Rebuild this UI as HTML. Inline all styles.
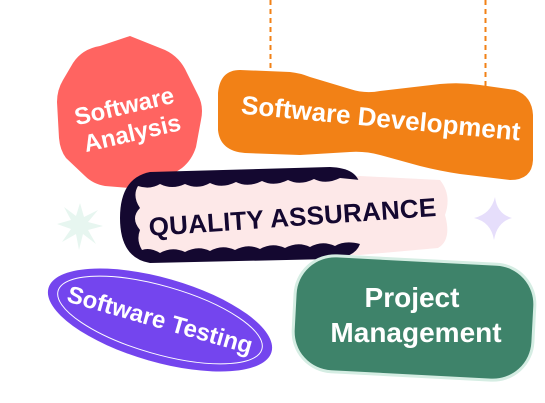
<!DOCTYPE html>
<html><head><meta charset="utf-8"><style>
html,body{margin:0;padding:0;background:#fff;width:545px;height:403px;overflow:hidden}
svg text{font-family:"Liberation Sans",sans-serif}
</style></head><body>
<svg width="545" height="403" viewBox="0 0 545 403" xmlns="http://www.w3.org/2000/svg">
<line x1="270.5" y1="0" x2="270.5" y2="68" stroke="#F28116" stroke-width="2" stroke-dasharray="5,4"/>
<line x1="485.5" y1="0" x2="485.5" y2="86" stroke="#F28116" stroke-width="2" stroke-dasharray="5,4"/>
<path d="M100,46 L130,36 L165,50 Q180,57 187,73 L198,95 Q204,106 201,120 L196,147 Q192,160 182,168 L155,186 Q145,190 130,188 L105,186 Q93,184 85,176 L66,158 Q60,150 59,138 L57,102 Q57,90 63,80 L73,63 Q82,49 100,46Z" fill="#FF6461"/>
<g fill="#fff" font-size="24" font-weight="600" text-anchor="middle">
<text transform="translate(126,114) rotate(-13)">Software</text>
<text transform="translate(134,141) rotate(-13)">Analysis</text>
</g>
<path d="M240,70 L290,72 Q300,73 310,77 L350,89 Q365,94 380,91 L440,84 Q460,82 480,85 L515,90 Q532,96 533,115 L533,160 Q532,180 510,180 L460,174 Q440,171 420,166 L380,155 Q365,151 350,152 L300,155 L245,153 Q220,151 218,130 L218,93 Q220,70 240,70Z" fill="#F28116"/>
<text transform="translate(380,127) rotate(5.5)" fill="#fff" font-size="26" font-weight="600" text-anchor="middle">Software Development</text>
<path d="M80,203 L84,217 L98,210 L88,222 L103,226 L88,230 L96,244 L83,234 L79,250 L76,234 L62,242 L71,229 L57,224 L71,220 L64,207 L76,216Z" fill="#E7F6F0"/>
<path d="M495,197 Q497,214 512,218 Q497,222 494,240 Q491,222 474,218 Q491,214 495,197Z" fill="#E6DEFB"/>
<path d="M345,178 L360,176 L440,180 Q452,195 445,215 Q452,240 438,248 L360,255 L345,255Z" fill="#FDE8E8"/>
<path d="M150,172 L330,167 Q358,168 360,186 L360,244 Q355,258 330,259 L150,263 Q120,258 120,218 Q120,178 150,172Z" fill="#140830"/>
<path d="M138,186 Q150,190 160,184 Q172,190 185,184 Q198,190 210,183 Q222,189 236,182 Q248,188 262,181 Q274,187 288,180 Q300,186 314,179 Q326,185 340,178 L360,180 L360,244 Q345,240 335,246 Q322,240 310,247 Q298,241 285,248 Q272,242 260,249 Q248,243 235,250 Q222,244 210,251 Q198,245 185,252 Q172,246 160,253 Q150,247 142,250 Q136,240 140,230 Q130,218 140,208 Q132,196 138,186Z" fill="#FDE8E8"/>
<text transform="translate(293,226) rotate(-4)" fill="#140830" font-size="26" font-weight="700" text-anchor="middle" textLength="288">QUALITY ASSURANCE</text>
<g transform="translate(160,320) rotate(16)">
<ellipse cx="0" cy="0" rx="116" ry="42" fill="#7445EE"/>
<ellipse cx="0" cy="0" rx="106" ry="34" fill="none" stroke="#fff" stroke-width="1"/>
<text x="0" y="8" fill="#fff" font-size="24" font-weight="600" text-anchor="middle">Software Testing</text>
</g>
<g transform="rotate(3 414 318)">
<rect x="294" y="260" width="240" height="116" rx="40" fill="#3E836A" stroke="#D5EDE3" stroke-width="3"/>
</g>
<g fill="#fff" font-size="28" font-weight="600" text-anchor="middle">
<text x="412" y="307">Project</text>
<text x="416" y="342">Management</text>
</g>
</svg>
</body></html>
